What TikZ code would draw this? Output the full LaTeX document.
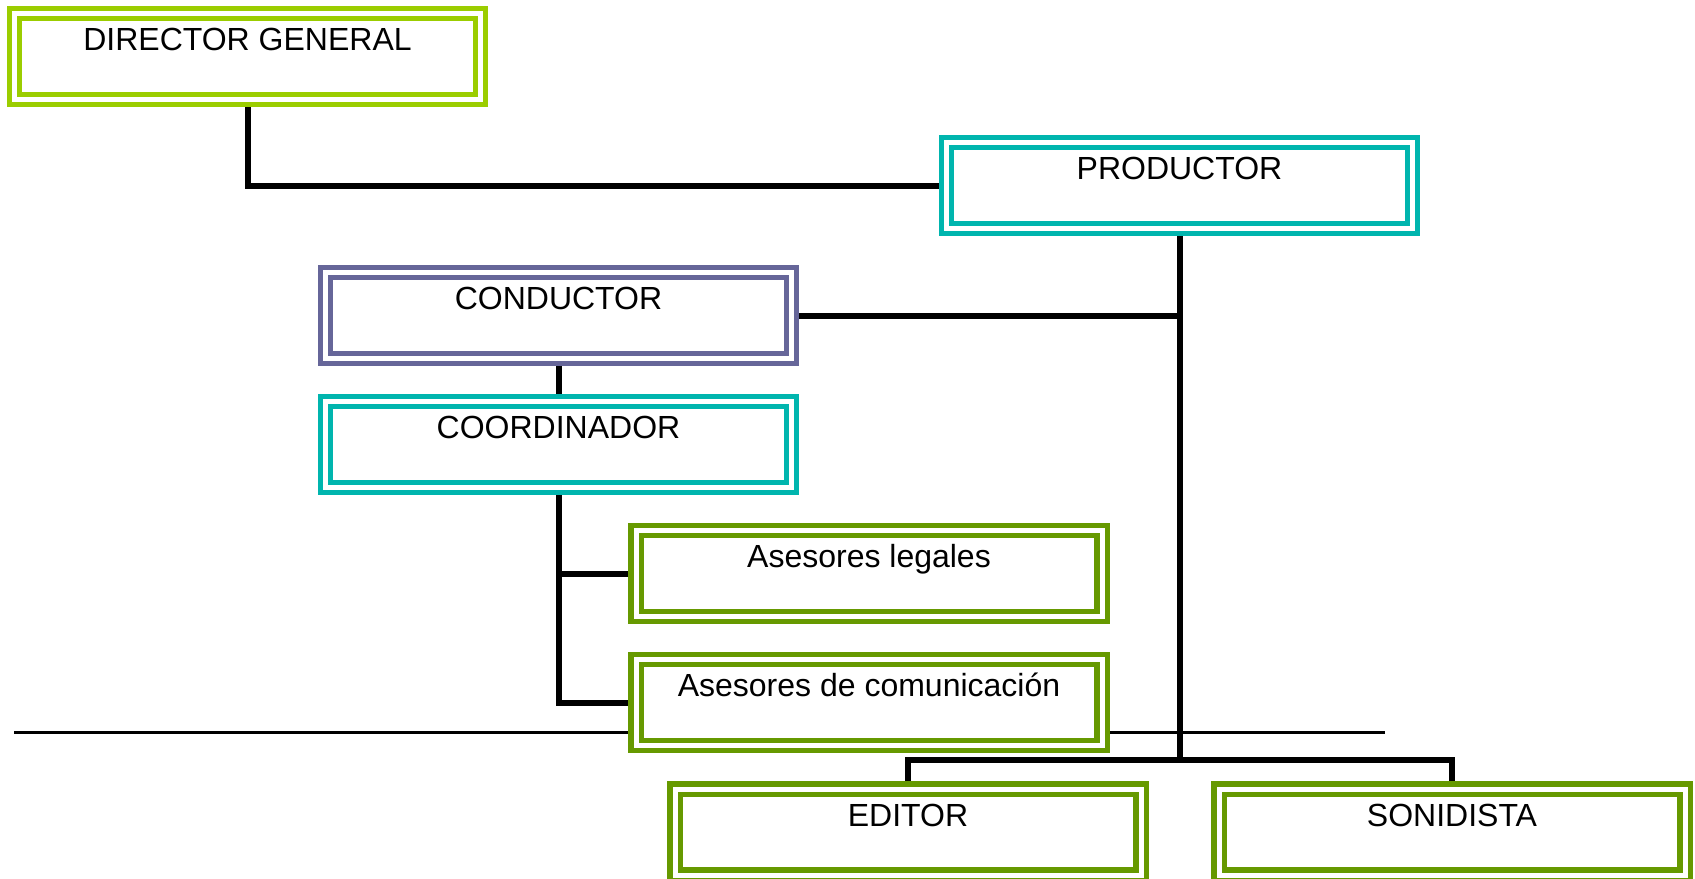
\documentclass[tikz,border=0pt]{standalone}
\usepackage{fontspec}
\setmainfont{Liberation Sans}
\pgfdeclarelayer{background}
\pgfsetlayers{background,main}
\definecolor{limeg}{RGB}{155,205,0}
\definecolor{tealb}{RGB}{0,181,174}
\definecolor{purpg}{RGB}{102,102,153}
\definecolor{greend}{RGB}{102,153,0}
\begin{document}
\begin{tikzpicture}[x=0.75pt,y=-0.75pt,
  orgbox/.style={draw=#1, double=white, double distance=3.75pt, line width=3.9pt,
    fill=white, minimum width=349.5pt, minimum height=64.5pt, inner sep=0pt, outer sep=0pt},
  conn/.style={line width=4.5pt, black},
  thinline/.style={line width=2.25pt, black},
  lbl/.style={anchor=base, yshift=-28.1pt, inner sep=0pt, font=\fontsize{24}{28}\selectfont}]
\useasboundingbox (0,0) rectangle (1695,878);
\clip (0,0) rectangle (1695,878);

\node[orgbox=limeg, label={[lbl]north:DIRECTOR GENERAL}] (dg) at (247.5,56.5) {};
\node[orgbox=tealb, label={[lbl]north:PRODUCTOR}] (prod) at (1179.5,185.5) {};
\node[orgbox=purpg, label={[lbl]north:CONDUCTOR}] (cond) at (558.5,315.5) {};
\node[orgbox=tealb, label={[lbl]north:COORDINADOR}] (coord) at (558.5,444.5) {};
\node[orgbox=greend, label={[lbl]north:Asesores legales}] (al) at (869,573.5) {};
\node[orgbox=greend, label={[lbl]north:Asesores de comunicación}] (ac) at (869,702.5) {};
\node[orgbox=greend, label={[lbl]north:EDITOR}] (ed) at (908,832) {};
\node[orgbox=greend, label={[lbl]north:SONIDISTA}] (son) at (1452,832) {};

\coordinate (br) at (1179.5,759.5);
\coordinate (tl) at (14,732.5);
\coordinate (tr) at (1385,732.5);

\begin{pgfonlayer}{background}
\draw[conn] (dg.south) |- (prod.west);
\draw[conn] (prod.south) -- (br);
\draw[conn] (ed.north) |- (br) -| (son.north);
\draw[conn] (cond.east) -- (cond.east -| prod.south);
\draw[conn] (cond.south) -- (coord.north);
\draw[conn] (coord.south) |- (ac.west);
\draw[conn] (coord.south |- al.west) -- (al.west);
\draw[thinline] (tl) -- (tr);
\end{pgfonlayer}
\end{tikzpicture}
\end{document}
